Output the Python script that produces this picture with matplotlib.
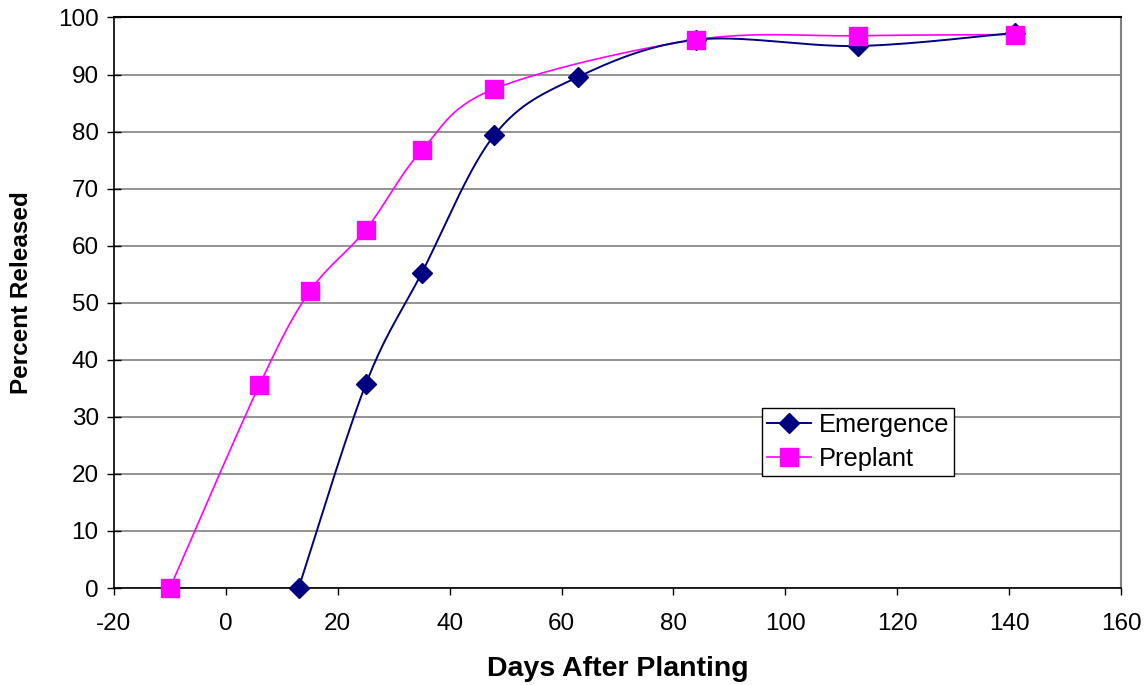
import numpy as np
import matplotlib
matplotlib.use("Agg")
import matplotlib.pyplot as plt
from matplotlib.lines import Line2D

plt.rcParams['font.family'] = ['Liberation Sans', 'DejaVu Sans']
plt.rcParams['axes.unicode_minus'] = False

emergence_days = [13, 25, 35, 48, 63, 84, 113, 141]
emergence_pct = [0, 35.7, 55.2, 79.4, 89.6, 96.1, 95.0, 97.3]

preplant_days = [-10, 6, 15, 25, 35, 48, 84, 113, 141]
preplant_pct = [0, 35.6, 52.0, 62.8, 76.7, 87.5, 96.1, 96.8, 97.0]

x_ticks = list(range(-20, 161, 20))
y_ticks = list(range(0, 101, 10))


def smooth_curve(xs, ys, n=40):
    """Cubic Bezier smoothing through every point (Catmull-Rom style)."""
    p = np.column_stack([xs, ys]).astype(float)
    out = [p[0]]
    for i in range(len(p) - 1):
        p0 = p[i - 1] if i > 0 else p[i]
        p1 = p[i]
        p2 = p[i + 1]
        p3 = p[i + 2] if i + 2 < len(p) else p[i + 1]
        c1 = p1 + (p2 - p0) / 6.0
        c2 = p2 - (p3 - p1) / 6.0
        t = np.linspace(0, 1, n)[1:, None]
        seg = ((1 - t) ** 3) * p1 + 3 * ((1 - t) ** 2) * t * c1 \
            + 3 * (1 - t) * t ** 2 * c2 + t ** 3 * p2
        out.extend(seg)
    out = np.array(out)
    return out[:, 0], out[:, 1]


fig = plt.figure(figsize=(11.48, 6.85), dpi=100)
ax = fig.add_axes([0.0993, 0.1416, 0.9765 - 0.0993, 0.9745 - 0.1416])

navy = '#000080'
magenta = '#FF00FF'

ex, ey = smooth_curve(emergence_days, emergence_pct)
px, py = smooth_curve(preplant_days, preplant_pct)

ax.plot(px, py, color=magenta, lw=1.2, zorder=3)
ax.plot(ex, ey, color=navy, lw=1.4, zorder=3)
ax.plot(emergence_days, emergence_pct, ls='none', marker='D', ms=10.5,
        color=navy, mec=navy, zorder=4, clip_on=False)
ax.plot(preplant_days, preplant_pct, ls='none', marker='s', ms=13,
        color=magenta, mec=magenta, zorder=5, clip_on=False)

ax.set_xlim(-20, 160)
ax.set_ylim(0, 100)
ax.set_xticks(x_ticks)
ax.set_yticks(y_ticks)
ax.tick_params(axis='both', labelsize=17.5, color='black', width=1)
ax.tick_params(axis='y', direction='inout', length=10, pad=6)
ax.tick_params(axis='x', direction='out', length=5, pad=13)

ax.grid(axis='y', color='#808080', lw=1.2)
ax.set_axisbelow(True)
for s in ax.spines.values():
    s.set_color('black')
    s.set_linewidth(1.5)
ax.spines['left'].set_linewidth(1.2)
ax.spines['bottom'].set_linewidth(1.2)
ax.spines['right'].set_color('#808080')

ax.set_xlabel('Days After Planting', fontsize=20.5, fontweight='bold', labelpad=15)
ax.set_ylabel('Percent Released', fontsize=17.5, fontweight='bold')
ax.yaxis.set_label_coords(-0.0805, 0.518)

handles = [
    Line2D([], [], color=navy, lw=1.4, marker='D', ms=10.5),
    Line2D([], [], color=magenta, lw=1.2, marker='s', ms=13),
]
leg = ax.legend(handles, ['Emergence', 'Preplant'], loc='upper left',
                bbox_to_anchor=(0.643, 0.315), fontsize=18.3, frameon=True,
                fancybox=False, edgecolor='black', framealpha=1,
                handlelength=1.75, handletextpad=0.3, borderpad=0.2,
                labelspacing=0.38, borderaxespad=0)
leg.get_frame().set_linewidth(1.0)

fig.savefig('out.png', dpi=100)
